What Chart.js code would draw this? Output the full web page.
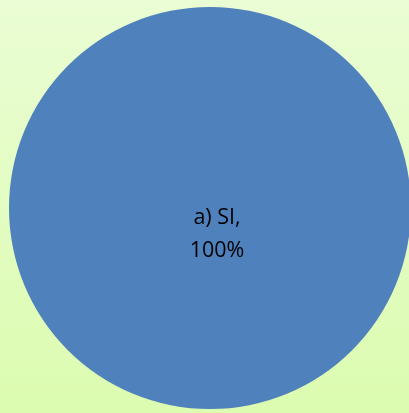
<!DOCTYPE html>
<html>
<head>
<meta charset="utf-8">
<script src="https://cdn.jsdelivr.net/npm/chart.js@4"></script>
<style>
    html, body {
        margin: 0;
        padding: 0;
        width: 409px;
        height: 413px;
        overflow: hidden;
        background: linear-gradient(to bottom, #eafdd4, #dcfcb0);
    }
    #wrap {
        position: absolute;
        left: 0;
        top: 0;
        width: 420px;
        height: 416px;
    }
</style>
</head>
<body>
<div id="wrap"><canvas id="pie"></canvas></div>
<script>
// données du graphique
const categories = ["a) SI"];
const values = [100];
const colors = ["#4f81bd"];

// étiquette au centre de la part
const sliceLabels = {
    id: "sliceLabels",
    afterDatasetsDraw(chart) {
        const ctx = chart.ctx;
        const meta = chart.getDatasetMeta(0);
        const total = values.reduce((a, b) => a + b, 0);
        meta.data.forEach((arc, i) => {
            const pct = Math.round(values[i] / total * 100) + "%";
            const x = arc.x + 7;
            const y = arc.y + 27;
            ctx.save();
            ctx.fillStyle = "#000";
            ctx.font = "21.5px 'Open Sans', sans-serif";
            ctx.textAlign = "center";
            ctx.textBaseline = "middle";
            ctx.fillText(categories[i] + ",", x, y - 17);
            ctx.fillText(pct, x, y + 16);
            ctx.restore();
        });
    }
};

new Chart(document.getElementById("pie"), {
    type: "pie",
    data: {
        labels: categories,
        datasets: [{
            data: values,
            backgroundColor: colors,
            borderWidth: 0
        }]
    },
    options: {
        responsive: true,
        maintainAspectRatio: false,
        animation: false,
        layout: { padding: 7 },
        plugins: {
            legend: { display: false },
            tooltip: { enabled: false }
        }
    },
    plugins: [sliceLabels]
});
</script>
</body>
</html>
